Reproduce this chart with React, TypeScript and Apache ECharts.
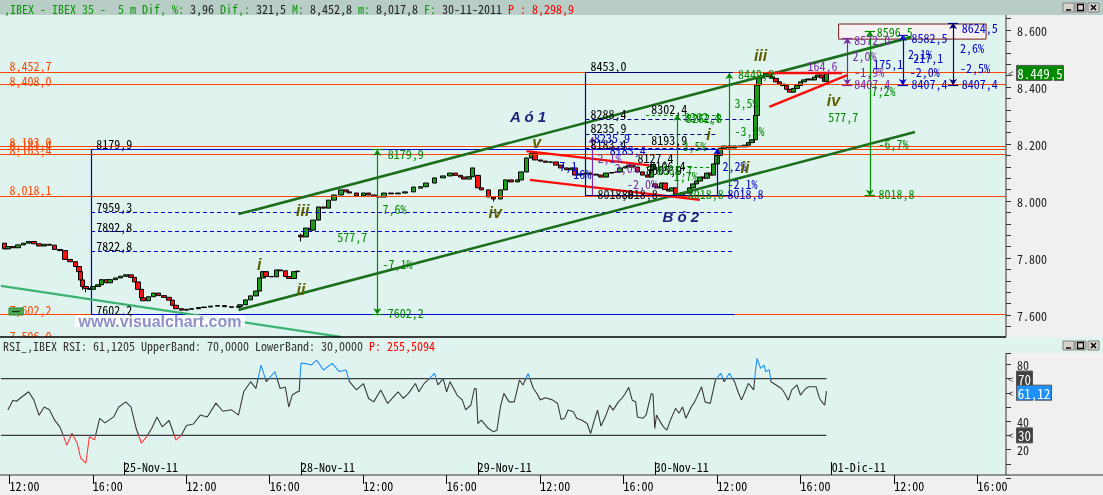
import React, { useEffect, useRef } from 'react';
import * as echarts from 'echarts';

const FONT = "'Noto Sans Mono CJK SC','DejaVu Sans Mono',monospace";

// ---- time axis structure (5-minute bars) ----
const DAYS = ['24-Nov-11', '25-Nov-11', '28-Nov-11', '29-Nov-11', '30-Nov-11', '01-Dic-11'];
const BARS_PER_DAY = 102;
const FIRST_BAR = 31;
const SLOT_COUNT = 580;
const TIME_LABEL_BARS = [36, 84]; // 12:00, 16:00

// ---- price candles: [bar, open, close, low?, high?] ----
const candles: number[][] = [
  [2, 7852, 7832], [4, 7832, 7840], [7, 7840, 7836], [10, 7836, 7846], [13, 7846, 7852], [16, 7852, 7858],
  [19, 7858, 7850], [22, 7850, 7842], [25, 7842, 7848], [28, 7848, 7845], [31, 7845, 7830], [34, 7830, 7826],
  [37, 7826, 7795], [40, 7795, 7787], [43, 7787, 7770], [45, 7770, 7752], [46, 7752, 7723], [47, 7723, 7700, 7688, 7723],
  [49, 7700, 7693, 7680, 7702], [51, 7693, 7690], [53, 7690, 7700], [56, 7700, 7706], [58, 7706, 7724], [61, 7724, 7713],
  [63, 7713, 7724], [66, 7724, 7730], [69, 7730, 7736], [72, 7736, 7741], [75, 7741, 7732], [77, 7732, 7716],
  [79, 7716, 7690], [81, 7690, 7660], [82, 7660, 7650], [85, 7650, 7664], [88, 7664, 7677], [91, 7677, 7668],
  [94, 7668, 7662], [97, 7662, 7652], [99, 7652, 7634], [101, 7634, 7622], [104, 7622, 7617], [107, 7617, 7620],
  [110, 7620, 7622], [114, 7622, 7626], [117, 7626, 7628], [121, 7628, 7631], [125, 7631, 7633], [129, 7633, 7629],
  [133, 7629, 7627], [137, 7627, 7630], [138, 7630, 7636], [141, 7636, 7653], [144, 7653, 7667], [147, 7667, 7684],
  [149, 7684, 7730], [151, 7730, 7752], [153, 7752, 7735], [156, 7735, 7734], [159, 7734, 7758], [161, 7758, 7755],
  [164, 7755, 7735], [166, 7735, 7728], [169, 7728, 7752], [171, 7752, 7754],
  [173, 7880, 7874, 7858, 7885], [176, 7874, 7905], [179, 7905, 7898], [180, 7898, 7933], [183, 7933, 7979],
  [186, 7979, 7975], [189, 7975, 8003], [192, 8003, 8021], [196, 8021, 8039], [199, 8039, 8032], [201, 8032, 8028],
  [205, 8028, 8018], [209, 8018, 8028], [212, 8028, 8021], [215, 8021, 8016], [218, 8016, 8014], [221, 8014, 8028],
  [225, 8028, 8025], [229, 8025, 8028], [233, 8028, 8032], [238, 8032, 8049], [242, 8045, 8050], [245, 8050, 8063],
  [250, 8063, 8081], [255, 8081, 8088], [259, 8088, 8098], [262, 8098, 8090], [265, 8090, 8084], [267, 8084, 8077],
  [270, 8077, 8085], [272, 8085, 8116],
  [275, 8090, 8046], [277, 8046, 8039], [281, 8039, 8014], [284, 8014, 8007, 7998, 8016], [288, 8007, 8039],
  [291, 8039, 8074], [294, 8074, 8067], [298, 8067, 8074], [300, 8074, 8102], [303, 8102, 8151], [306, 8151, 8168],
  [308, 8168, 8144], [311, 8144, 8140], [314, 8140, 8136], [317, 8136, 8137], [320, 8137, 8126], [323, 8126, 8116],
  [326, 8116, 8110], [329, 8110, 8116], [331, 8116, 8091], [334, 8091, 8095], [337, 8095, 8098], [340, 8098, 8094],
  [343, 8094, 8091], [346, 8091, 8084], [349, 8084, 8098], [352, 8098, 8100], [355, 8100, 8102], [357, 8102, 8116],
  [360, 8116, 8120], [362, 8120, 8126], [364, 8126, 8119], [367, 8119, 8102], [370, 8102, 8091], [373, 8091, 8084],
  [375, 8084, 8110], [376, 8110, 8128],
  [377, 8060, 8050], [379, 8050, 8046], [381, 8046, 8063], [383, 8063, 8040], [385, 8040, 8035], [387, 8035, 8046],
  [389, 8046, 8025], [391, 8025, 8018, 8017.8, 8027], [393, 8018, 8030], [395, 8030, 8028], [397, 8028, 8046],
  [399, 8046, 8060], [401, 8060, 8070], [403, 8070, 8084], [405, 8084, 8080], [407, 8080, 8098], [409, 8098, 8091],
  [411, 8091, 8130], [413, 8130, 8160], [415, 8160, 8185], [417, 8185, 8193], [420, 8193, 8186], [423, 8186, 8193],
  [426, 8193, 8190], [429, 8190, 8196], [431, 8196, 8205], [433, 8205, 8215], [435, 8215, 8300], [436, 8300, 8407],
  [437, 8407, 8432], [439, 8432, 8440], [441, 8440, 8449, 8436, 8452.8], [443, 8449, 8436], [445, 8436, 8430],
  [447, 8430, 8418], [449, 8418, 8410], [451, 8410, 8405], [453, 8405, 8392], [455, 8392, 8382], [457, 8382, 8395],
  [459, 8395, 8405], [461, 8405, 8418], [463, 8418, 8425], [465, 8425, 8428], [467, 8428, 8425], [469, 8425, 8435],
  [471, 8435, 8442], [473, 8442, 8432], [475, 8432, 8420], [476, 8420, 8449.5],
];
const LAST_PRICE = 8449.5;

// ---- RSI: [bar, value] ----
const rsi: number[][] = [
  [4, 47.8], [7, 54.8], [9, 54], [12, 57], [16, 60.7], [19, 55], [22, 44.2], [25, 50], [28, 48], [31, 40.7], [34, 36],
  [36, 30], [38, 23], [41, 31.3], [44, 24.5], [46, 14], [49, 10.4], [51, 29], [54, 27], [57, 42], [60, 38.8], [65, 43],
  [68, 50], [72, 53.6], [75, 50], [78, 35], [81, 24.5], [84, 29], [87, 35], [90, 43], [93, 36], [97, 40.5], [101, 26.6],
  [104, 30], [107, 37], [111, 38], [115, 44.3], [119, 43], [124, 52.7], [128, 47], [133, 48], [137, 44.3], [140, 60.7],
  [144, 67.8], [147, 63], [150, 79.5], [153, 67.8], [158, 74.8], [161, 63], [164, 64], [166, 50], [168, 58.4],
  [171, 60.7], [172, 61], [173, 80.7], [175, 80.7], [179, 79.5], [182, 83], [186, 76], [191, 80.7], [195, 75], [199, 76],
  [201, 67.8], [205, 62], [209, 66.5], [212, 56], [215, 53.6], [219, 62], [223, 52.5], [229, 60.7], [232, 56],
  [235, 59.6], [239, 66.5], [241, 60.7], [244, 66.5], [247, 70], [250, 73.6], [252, 65.5], [255, 70], [257, 60.7],
  [259, 67.8], [263, 58.4], [266, 55], [268, 48], [271, 51.4], [273, 63], [274, 63], [275, 38.3], [277, 40.7], [281, 35],
  [284, 32.5], [286, 33.6], [288, 50], [290, 59.6], [293, 53.6], [296, 53.6], [299, 69], [301, 65.5], [304, 73.6],
  [307, 63], [309, 59.6], [311, 55], [314, 56.5], [318, 55], [321, 52.5], [323, 41.2], [325, 42], [327, 47.8],
  [330, 46.6], [332, 42], [335, 40.7], [338, 38.4], [340, 31.3], [342, 40], [344, 47.8], [346, 36.6], [349, 44.6],
  [351, 51.3], [353, 47.8], [356, 53.6], [358, 56], [360, 59.5], [362, 63.8], [364, 54.8], [366, 53.6], [367, 43],
  [370, 42], [372, 44.3], [375, 59.5], [376, 59], [377, 34.9], [378, 44.3], [379, 42], [382, 36], [384, 33.7],
  [386, 40.7], [389, 49], [391, 45.6], [393, 50], [395, 42], [398, 50], [400, 53.6], [404, 64.2], [406, 53.6],
  [409, 52.5], [412, 69], [415, 73.7], [417, 67.8], [420, 73.7], [423, 67.8], [425, 60.7], [427, 54.8], [429, 60.7],
  [431, 66.6], [434, 62], [435, 74.8], [436, 84.2], [438, 77.2], [440, 79.5], [441, 74.8], [443, 76.3], [444, 67.8],
  [447, 65.5], [450, 63], [452, 59.5], [454, 54.8], [456, 62], [459, 65.5], [461, 58.4], [464, 63], [466, 64.2],
  [470, 64.2], [472, 56], [474, 52.5], [475, 51.3], [476, 61.12],
];
const RSI_BANDS = [70, 30];
const RSI_LAST = 61.12;

// ---- drawings (data space: bar index, price) ----
const ORANGE_LEVELS = [8452.7, 8408.0, 8193.0, 8181.4, 8163.4, 8018.1, 7602.2];
// [bar1, price1, bar2, price2, style]
const segments: any[] = [
  [52, 7602.2, 52, 8179.9, 'blue'], [52, 8179.9, 413, 8179.9, 'blue'], [52, 7602.2, 423, 7602.2, 'blue'],
  [52, 7959.3, 423, 7959.3, 'blueDash'], [52, 7892.8, 423, 7892.8, 'blueDash'], [52, 7822.8, 423, 7822.8, 'blueDash'],
  [137, 7954, 525, 8575, 'channel'], [137, 7618, 527, 8242, 'channel'], [0, 7702, 196, 7523, 'trend'],
  [303, 8175, 374, 8125, 'red'], [305, 8074, 403, 8004, 'red'], [442, 8450, 485, 8450, 'red'], [443, 8330, 488, 8442, 'red'],
  [337, 8018.8, 337, 8453.0, 'navy'], [337, 8453.0, 422, 8453.0, 'navy'], [337, 8018.8, 422, 8018.8, 'navy'],
  [337, 8288.4, 432, 8288.4, 'navyDash'], [337, 8235.9, 413, 8235.9, 'navyDash'], [337, 8183.4, 413, 8183.4, 'navyDash'],
  [372, 8302.4, 415, 8302.4, 'greenDash'], [372, 8119, 411, 8119, 'greenDash'],
  [214, 8179.9, 220, 8179.9, 'green'], [214, 7602.2, 220, 7602.2, 'green'],
  [498, 8596.5, 504, 8596.5, 'green'], [498, 8018.8, 504, 8018.8, 'green'],
  [485, 8572.0, 491, 8572.0, 'purple'], [485, 8407.4, 491, 8407.4, 'purple'],
  [517, 8582.5, 523, 8582.5, 'blue'], [517, 8407.4, 523, 8407.4, 'blue'],
  [546, 8624.5, 552, 8624.5, 'navy'], [546, 8407.4, 552, 8407.4, 'navy'],
];
// [bar, fromPrice, toPrice, style, arrowAtBothEnds]
const measures: any[] = [
  [217, 7602.2, 8179.9, 'green', true], [390, 8018.8, 8302.4, 'green', false], [420, 8018.8, 8449.0, 'green', false],
  [413, 8018.8, 8183.4, 'blue', false], [341, 8018.8, 8224.6, 'purple', false], [501, 8018.8, 8596.5, 'green', true],
  [488, 8407.4, 8572.0, 'purple', true], [520, 8407.4, 8582.5, 'blue', true], [549, 8407.4, 8624.5, 'navy', true],
];
const BOX = [[483, 8621], [568, 8568]];
// [bar, price, text]
const orangeTexts: any[] = [
  [5, 8473.7, '8,452,7'], [5, 8424.5, '8,408,0'], [5, 8210.5, '8,193,0'], [5, 8196.5, '8,181,4'], [5, 8182.4, '8,163,4'],
  [5, 8038.6, '8,018,1'], [5, 7621, '7,602,2'], [5, 7527, '7,596,0'],
];
const blackTexts: any[] = [
  [55, 8203.5, '8179,9'], [55, 7979, '7959,3'], [55, 7912, '7892,8'], [55, 7843, '7822,8'], [55, 7621, '7602,2'],
  [340, 8473.7, '8453,0'], [340, 8308.7, '8288,4'], [340, 8259.6, '8235,9'], [340, 8203.5, '8183,4'],
  [375, 8326, '8302,4'], [375, 8217.5, '8193,9'], [367, 8151, '8127,4'], [374, 8126, '8106,4'], [372, 8109, '8065,9'],
  [344, 8025, '8018,8'], [358, 8025, '8018,8'],
];
const greenTexts: any[] = [
  [223, 8168, '8179,9'], [220, 7975, '7,6%'], [194, 7874, '577,7'], [220, 7782, '-7,1%'], [223, 7610, '7602,2'],
  [505, 8593, '8596,5'], [502, 8389, '7,2%'], [477, 8295, '577,7'], [506, 8203.5, '-6,7%'], [506, 8028, '8018,8'],
  [425, 8449, '8449,8'], [423, 8347, '3,5%'], [423, 8249, '-3,4%'], [394, 8295, '8302,4'], [395, 8292, '8262,8'],
  [393, 8193, '3,5%'], [396, 8028, '8018,8'], [378, 8112, '8065,7'], [388, 8090, '1,7%'],
];
const purpleTexts: any[] = [
  [492, 8568, '8572,0'], [491, 8512, '2,0%'], [492, 8456, '-1,9%'], [492, 8414, '8407,4'], [465, 8477, '164,6'],
  [344, 8154, '2,1%'], [354, 8119, '2,0%'], [361, 8063, '-2,0%'],
];
const blueTexts: any[] = [
  [525, 8572, '8582,5'], [523, 8519, '2,1%'], [526, 8505, '217,1'], [503, 8484, '175,1'], [524, 8456, '-2,0%'],
  [525, 8414, '8407,4'], [554, 8610.5, '8624,5'], [553, 8540, '2,6%'], [553, 8467, '-2,5%'], [554, 8414, '8407,4'],
  [416, 8126, '2,2%'], [419, 8063, '-2,1%'], [419, 8025, '8018,8'], [342, 8224, '8235,9'], [351, 8179, '8183,4'],
  [322, 8126, '7,1'], [330, 8098, '16%'],
];
// wave counts: [bar, price(center), text]
const waveTexts: any[] = [
  [149, 7776, 'i'], [173, 7691, 'ii'], [174, 7965, 'iii'], [285, 7958, 'iv'], [309, 8207, 'v'],
  [438, 8509, 'iii'], [480, 8351, 'iv'], [408, 8235, 'i'], [429, 8116, 'ii'],
];
const nameTexts: any[] = [[304, 8295, 'A ó 1'], [392, 7947, 'B ó 2']];

// ---- colors ----
const C = {
  orange: '#ff4500', blue: '#0000d0', navy: '#000080', green: '#008a00', purple: '#7a2aa8', red: '#ff0a0a',
  channel: '#1c6e1c', trend: '#3cb371', mint: '#e0f4ef', header: '#b8cdc5', panel: '#f0f0f0',
};
const LS: any = {
  blue: { color: C.blue, width: 1.2, type: 'solid' },
  blueDash: { color: C.blue, width: 1.2, type: [4, 3] },
  navy: { color: C.navy, width: 1.2, type: 'solid' },
  navyDash: { color: C.navy, width: 1.2, type: [4, 3] },
  green: { color: C.green, width: 1.2, type: 'solid' },
  greenDash: { color: C.green, width: 1.2, type: [3, 3] },
  purple: { color: C.purple, width: 1.2, type: 'solid' },
  channel: { color: C.channel, width: 2.6, type: 'solid' },
  trend: { color: C.trend, width: 2.2, type: 'solid' },
  red: { color: C.red, width: 2.4, type: 'solid' },
  orange: { color: C.orange, width: 1, type: 'solid' },
};

const categories: string[] = [];
for (let i = 0; i < SLOT_COUNT; i++) {
  const g = i + FIRST_BAR;
  const d = Math.floor(g / BARS_PER_DAY);
  const m = 9 * 60 + 5 * (g % BARS_PER_DAY);
  categories.push(`${DAYS[d]} ${String(Math.floor(m / 60)).padStart(2, '0')}:${String(m % 60).padStart(2, '0')}`);
}
const isTime = (i: number) => TIME_LABEL_BARS.includes((i + FIRST_BAR) % BARS_PER_DAY);
const isDay = (i: number) => (i + FIRST_BAR) % BARS_PER_DAY === 0;

function textPoint(t: any[], color: string) {
  return {
    coord: [t[0], t[1]], name: t[2], symbol: 'circle', symbolSize: 0,
    label: { show: true, position: 'right', distance: 0, formatter: t[2], color, fontFamily: FONT, fontSize: 12 },
  };
}

function buildOption(): any {
  const candleData = candles.map((c) => {
    const [i, o, cl] = c;
    const lo = c[3] ?? Math.min(o, cl);
    const hi = c[4] ?? Math.max(o, cl);
    return [i, o, cl, lo, hi];
  });
  const mlData: any[] = [
    ...ORANGE_LEVELS.map((v) => ({ yAxis: v, lineStyle: LS.orange })),
    ...segments.map((s) => [
      { coord: [s[0], s[1]], lineStyle: LS[s[4]], symbol: 'none' },
      { coord: [s[2], s[3]], symbol: 'none' },
    ]),
    ...measures.map((m) => [
      { coord: [m[0], m[1]], lineStyle: LS[m[3]], symbol: m[4] ? 'arrow' : 'none', symbolSize: 6 },
      { coord: [m[0], m[2]], symbol: 'arrow', symbolSize: 6 },
    ]),
  ];
  const mpData: any[] = [
    ...orangeTexts.map((t) => textPoint(t, C.orange)),
    ...blackTexts.map((t) => textPoint(t, '#000')),
    ...greenTexts.map((t) => textPoint(t, C.green)),
    ...purpleTexts.map((t) => textPoint(t, C.purple)),
    ...blueTexts.map((t) => textPoint(t, C.blue)),
    ...waveTexts.map((t) => ({
      coord: [t[0], t[1]], name: t[2], symbol: 'circle', symbolSize: 0,
      label: {
        show: true, position: 'inside', formatter: t[2], color: '#5f5f00', fontFamily: 'Liberation Sans',
        fontSize: 16, fontWeight: 'bold', fontStyle: 'italic', textShadowColor: 'rgba(0,0,0,0.35)',
        textShadowOffsetX: 1, textShadowOffsetY: 1, textShadowBlur: 0,
      },
    })),
    ...nameTexts.map((t) => ({
      coord: [t[0], t[1]], name: t[2], symbol: 'circle', symbolSize: 0,
      label: {
        show: true, position: 'inside', formatter: t[2], color: '#1f1f7a', fontFamily: 'Liberation Sans',
        fontSize: 15, fontWeight: 'bold', fontStyle: 'italic',
      },
    })),
  ];

  const priceFmt = (v: number) =>
    v % 200 === 0 ? `${Math.floor(v / 1000)}.${String(v % 1000).padStart(3, '0')}` : '';

  return {
    animation: false,
    grid: [
      { left: 0, top: 18.6, width: 1006, height: 319.2 },
      { left: 0, top: 353, width: 1006, height: 125 },
      { left: 0, top: 353, width: 1006, height: 122 },
    ],
    xAxis: [
      { type: 'category', gridIndex: 0, data: categories, show: false },
      { type: 'category', gridIndex: 1, data: categories, show: false },
      {
        type: 'category', gridIndex: 2, data: categories, position: 'bottom',
        axisLine: { show: false }, splitLine: { show: false },
        axisTick: { show: true, alignWithLabel: true, interval: isTime, length: 9, lineStyle: { color: '#000' } },
        axisLabel: {
          interval: isTime, formatter: (v: string) => v.split(' ')[1], align: 'left', margin: 4,
          color: '#000', fontFamily: FONT, fontSize: 12,
        },
      },
      {
        type: 'category', gridIndex: 2, data: categories, position: 'bottom',
        axisLine: { show: false }, splitLine: { show: false },
        axisTick: { show: true, inside: true, alignWithLabel: true, interval: isDay, length: 13, lineStyle: { color: '#000' } },
        axisLabel: {
          inside: true, interval: isDay, formatter: (v: string) => v.split(' ')[0], align: 'left', margin: 3,
          color: '#000', fontFamily: FONT, fontSize: 12,
        },
      },
    ],
    yAxis: [
      {
        type: 'value', gridIndex: 0, position: 'right', min: 7520, max: 8640, interval: 40,
        axisLine: { show: false }, splitLine: { show: false },
        axisTick: { show: true, length: 5, lineStyle: { color: '#333' } },
        axisLabel: { formatter: priceFmt, margin: 11, color: '#222', fontFamily: FONT, fontSize: 12 },
      },
      {
        type: 'value', gridIndex: 1, position: 'right', min: 0, max: 88, interval: 10,
        axisLine: { show: false }, splitLine: { show: false },
        axisTick: { show: true, length: 5, lineStyle: { color: '#333' } },
        axisLabel: {
          formatter: (v: number) => ([20, 40, 60, 80].includes(v) ? String(v) : ''),
          margin: 11, color: '#222', fontFamily: FONT, fontSize: 12,
        },
      },
      { type: 'value', gridIndex: 2, show: false, min: 0, max: 1 },
    ],
    visualMap: [{
      type: 'piecewise', show: false, seriesIndex: 1, dimension: 1,
      pieces: [
        { lt: 30, color: '#ff3b3b' },
        { gte: 30, lte: 70, color: '#3a3a3a' },
        { gt: 70, color: '#1e8fff' },
      ],
    }],
    series: [
      {
        type: 'candlestick', xAxisIndex: 0, yAxisIndex: 0, barWidth: 5,
        dimensions: ['bar', 'open', 'close', 'lowest', 'highest'],
        encode: { x: 0, y: [1, 2, 3, 4] },
        data: candleData,
        itemStyle: { color: '#1c9c1c', color0: '#ff1010', borderColor: '#000', borderColor0: '#000', borderWidth: 1 },
        silent: true,
        markArea: {
          silent: true,
          itemStyle: { color: 'rgba(246,242,242,0.9)', borderColor: '#7a1a1a', borderWidth: 1 },
          data: [[{ coord: BOX[0] }, { coord: BOX[1] }]],
        },
        markLine: { silent: true, symbol: ['none', 'none'], symbolSize: 6, label: { show: false }, data: mlData },
        markPoint: { silent: true, symbol: 'circle', symbolSize: 0, itemStyle: { color: 'transparent' }, data: mpData },
      },
      {
        type: 'line', xAxisIndex: 1, yAxisIndex: 1, data: rsi, symbol: 'none', showSymbol: false,
        lineStyle: { width: 1.1 }, silent: true, z: 4,
      },
      ...RSI_BANDS.map((b) => ({
        type: 'line', xAxisIndex: 1, yAxisIndex: 1, data: [[0, b], [rsi[rsi.length - 1][0], b]],
        symbol: 'none', showSymbol: false, lineStyle: { color: '#3a3a3a', width: 1.2 }, silent: true, z: 3,
      })),
    ],
  };
}

function winButtons(y: number, z: number): any[] {
  const out: any[] = [];
  [1063, 1075, 1088].forEach((x, k) => {
    out.push({ type: 'rect', shape: { x, y, width: 11, height: 9 }, style: { fill: '#d6d3cc', stroke: '#808080', lineWidth: 1 }, z, silent: true });
    if (k === 0) out.push({ type: 'line', shape: { x1: x + 3, y1: y + 7, x2: x + 8, y2: y + 7 }, style: { stroke: '#000', lineWidth: 1.5 }, z: z + 1, silent: true });
    if (k === 1) out.push({ type: 'rect', shape: { x: x + 2.5, y: y + 1.5, width: 6, height: 6 }, style: { fill: 'none', stroke: '#000', lineWidth: 1.3 }, z: z + 1, silent: true });
    if (k === 2) {
      out.push({ type: 'line', shape: { x1: x + 3, y1: y + 2, x2: x + 8, y2: y + 7 }, style: { stroke: '#000', lineWidth: 1.5 }, z: z + 1, silent: true });
      out.push({ type: 'line', shape: { x1: x + 8, y1: y + 2, x2: x + 3, y2: y + 7 }, style: { stroke: '#000', lineWidth: 1.5 }, z: z + 1, silent: true });
    }
  });
  return out;
}

function graphics(yPrice: number, yR: (v: number) => number): any[] {
  const rect = (x: number, y: number, w: number, h: number, fill: string, z: number, stroke?: string) =>
    ({ type: 'rect', shape: { x, y, width: w, height: h }, style: { fill, stroke: stroke || null, lineWidth: 1 }, z, silent: true });
  const line = (x1: number, y1: number, x2: number, y2: number, stroke: string, w: number, z: number) =>
    ({ type: 'line', shape: { x1, y1, x2, y2 }, style: { stroke, lineWidth: w }, z, silent: true });
  const text = (x: number, y: number, t: string, fill: string, font: string, z: number, align = 'left') =>
    ({ type: 'text', x, y, style: { text: t, fill, font, align, verticalAlign: 'middle' }, z, silent: true });
  const f12 = `12px ${FONT}`;
  const rs = (fill: string) => ({ fill, fontFamily: FONT, fontSize: 12 });
  const badge = (y: number, w: number, label: string, fill: string) => [
    rect(1016.5, y - 7.5, w, 15, fill, 70, '#555'),
    text(1016.5 + w / 2, y + 0.5, label, '#fff', `13px ${FONT}`, 71, 'center'),
    text(1008, y, '<', '#555', `11px ${FONT}`, 71),
  ];
  return [
    rect(0, 0, 1103, 495, C.panel, -100),
    rect(0, 0, 1103, 15, C.header, -99),
    rect(0, 15, 1006, 322, C.mint, -99),
    rect(0, 353, 1006, 122, C.mint, -99),
    rect(0, 337.5, 1103, 15.5, C.mint, 50),
    line(0, 337, 1006, 337, '#000', 1.5, 55),
    line(1006, 15, 1006, 337, '#333', 1, 55),
    line(1006, 353, 1006, 475, '#333', 1, 55),
    line(0, 475, 1103, 475, '#333', 1, 55),
    ...winButtons(3, 60),
    ...winButtons(341, 60),
    {
      type: 'text', x: 4, y: 8, z: 60, silent: true,
      style: {
        text: '{g|,IBEX - IBEX 35 -  5 m Dif, %: }{d|3,96}{g| Dif,: }{d|321,5}{g| M: }{d|8,452,8}{g| m: }{d|8,017,8}{g| F: }{d|30-11-2011 }{r|P : 8,298,9}',
        verticalAlign: 'middle', font: f12,
        rich: { g: rs('#079a07'), d: rs('#222'), r: rs('#ff0000') },
      },
    },
    {
      type: 'text', x: 3, y: 345, z: 60, silent: true,
      style: {
        text: '{d|RSI_,IBEX RSI: 61,1205 UpperBand: 70,0000 LowerBand: 30,0000 }{r|P: 255,5094}',
        verticalAlign: 'middle', font: f12,
        rich: { d: rs('#333'), r: rs('#ff0000') },
      },
    },
    rect(75, 315, 170, 12, 'rgba(255,255,255,0.85)', 90),
    text(160, 321.5, 'www.visualchart.com', '#9090c8', 'bold 16px Liberation Sans', 91, 'center'),
    rect(9, 308, 14, 7, '#4caf50', 92, '#2e7d32'),
    line(12, 311.5, 20, 311.5, '#1b3d1b', 1.5, 93),
    ...badge(yPrice, 47, '8.449,5', '#008a00'),
    ...badge(yR(RSI_BANDS[0]), 16, '70', '#404040'),
    ...badge(yR(RSI_BANDS[1]), 16, '30', '#404040'),
    ...badge(yR(RSI_LAST) + 1.5, 35, '61,12', '#1e90ff'),
  ];
}

export default function App() {
  const ref = useRef<HTMLDivElement>(null);
  useEffect(() => {
    const el = ref.current;
    if (!el) return;
    const chart = echarts.init(el, undefined, { renderer: 'svg' });
    chart.setOption(buildOption());
    const yPrice = chart.convertToPixel({ yAxisIndex: 0 } as any, LAST_PRICE) as unknown as number;
    const yR = (v: number) => chart.convertToPixel({ yAxisIndex: 1 } as any, v) as unknown as number;
    chart.setOption({ graphic: { elements: graphics(yPrice, yR) } });
    return () => chart.dispose();
  }, []);
  return <div ref={ref} style={{ position: 'fixed', left: 0, top: 0, width: 1103, height: 495 }} />;
}
